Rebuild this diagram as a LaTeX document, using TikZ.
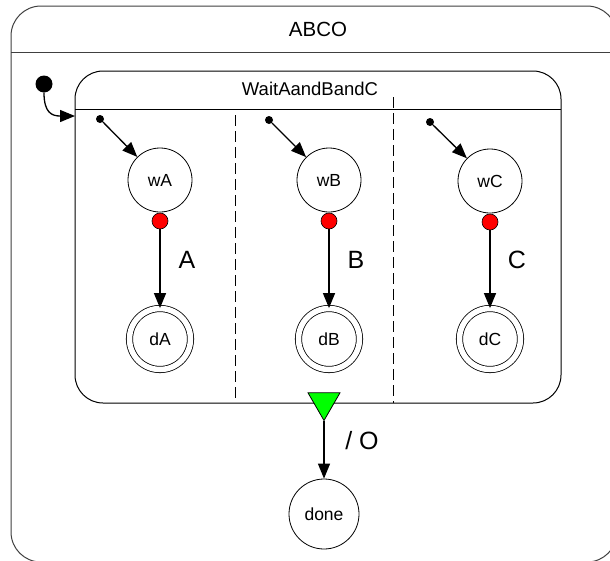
\documentclass[tikz,border=0pt]{standalone}
\usepackage{fontspec}
\setmainfont{Liberation Sans}
\usetikzlibrary{arrows.meta,shapes.geometric}
\tikzset{
  boxline/.style={draw=black!75, line width=1pt},
  state/.style={circle, draw, line width=0.8pt, minimum size=64pt, inner sep=0pt, font=\fontsize{17.5}{20}\selectfont},
  finalstate/.style={circle, draw, line width=0.8pt, double, double distance=5.5pt, minimum size=61pt, inner sep=0pt, font=\fontsize{17.5}{20}\selectfont},
  reddot/.style={circle, draw, line width=0.6pt, fill=red, minimum size=16pt, inner sep=0pt},
  smalldot/.style={circle, fill=black, minimum size=8pt, inner sep=0pt},
  bigdot/.style={circle, fill=black, minimum size=17pt, inner sep=0pt},
  conn/.style={draw, line width=1.3pt, -{Triangle[length=15pt,width=12pt]}},
  tlabel/.style={font=\fontsize{25}{28}\selectfont},
  hdr/.style={font=\fontsize{20.5}{23}\selectfont},
  hdrsmall/.style={font=\fontsize{18.5}{21}\selectfont},
  region/.style={draw=black, line width=1pt, dash pattern=on 11pt off 5pt},
}
\begin{document}
\begin{tikzpicture}[x=1pt,y=-1pt]
\clip (0,0) rectangle (610,560);
\fill[white] (0,0) rectangle (610,560);
% outer state
\node[boxline, rounded corners=30pt, minimum width=606pt, minimum height=556pt, inner sep=0pt] (abco) at (314,284) {};
\draw[boxline] (11,52) -- (617,52);
\node[hdr] (abcot) at (318,29) {ABCO};
% inner composite state
\node[boxline, draw=black, rounded corners=28pt, minimum width=486pt, minimum height=332pt, inner sep=0pt] (wait) at (318,237) {};
\draw[line width=1pt] (75,109) -- (561,109);
\node[hdrsmall] (waitt) at (310,89) {WaitAandBandC};
% region separators
\coordinate (s1a) at (235,115); \coordinate (s1b) at (235,403);
\coordinate (s2a) at (393,97);  \coordinate (s2b) at (393,403);
\draw[region] (s1a) -- (s1b);
\draw[region] (s2a) -- (s2b);
% top initial
\node[bigdot] (init) at (44,84) {};
\coordinate (wentry) at (75,116);
\draw[conn] (init) .. controls (44,113) and (52,116) .. (wentry);
% region A
\node[smalldot] (ia) at (100,119) {};
\node[state] (wA) at (160,180) {wA};
\node[reddot] (ra) at (160,221) {};
\node[finalstate] (dA) at (160,339) {dA};
\draw[conn] (ia) -- (wA);
\draw[conn] (ra) -- (dA);
\node[tlabel] (la) at (187,260) {A};
% region B
\node[smalldot] (ib) at (269,120) {};
\node[state] (wB) at (329,180) {wB};
\node[reddot] (rb) at (329,221) {};
\node[finalstate] (dB) at (329,339) {dB};
\draw[conn] (ib) -- (wB);
\draw[conn] (rb) -- (dB);
\node[tlabel] (lb) at (356,260) {B};
% region C
\node[smalldot] (ic) at (430,122) {};
\node[state] (wC) at (490,181) {wC};
\node[reddot] (rc) at (490,222) {};
\node[finalstate] (dC) at (490,339) {dC};
\draw[conn] (ic) -- (wC);
\draw[conn] (rc) -- (dC);
\node[tlabel] (lc) at (517,260) {C};
% completion
\node[regular polygon, regular polygon sides=3, shape border rotate=180, draw, line width=0.8pt, fill=green, minimum size=37pt, inner sep=0pt] (tri) at (324,402) {};
\node[state, minimum size=70pt] (done) at (324,514) {done};
\draw[conn] (tri) -- (done);
\node[tlabel] (lo) at (362,441) {/ O};
\end{tikzpicture}
\end{document}
